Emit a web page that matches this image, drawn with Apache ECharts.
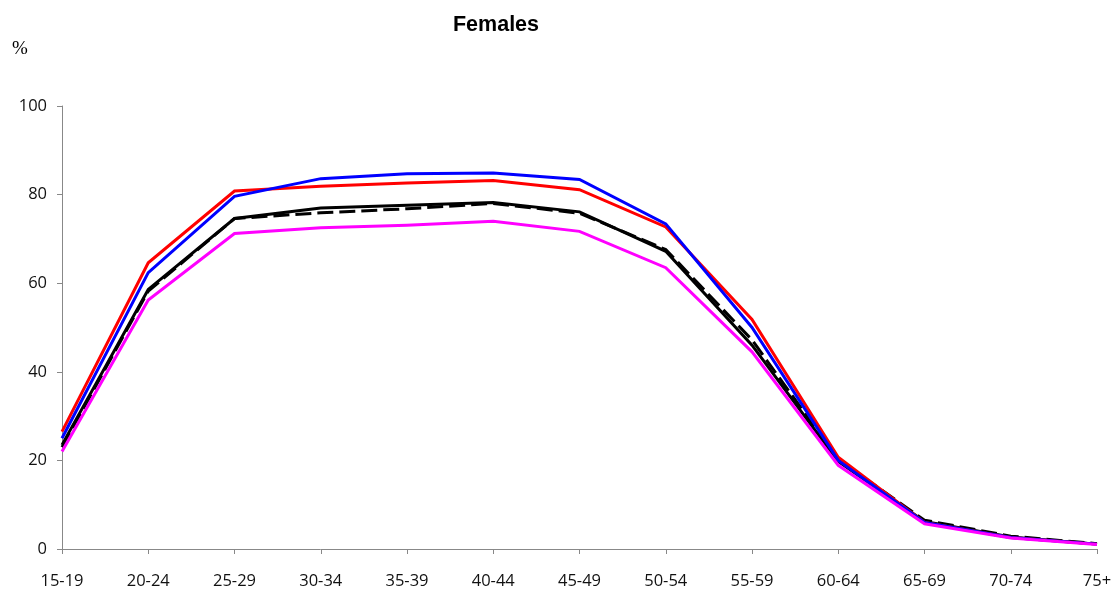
<!DOCTYPE html>
<html><head><meta charset="utf-8">
<script src="https://cdn.jsdelivr.net/npm/echarts@6/dist/echarts.min.js"></script>
<style>html,body{margin:0;padding:0;background:#fff}#c{width:1117px;height:593px}</style>
</head><body><div id="c"></div>
<script>
const categories = ['15-19','20-24','25-29','30-34','35-39','40-44','45-49','50-54','55-59','60-64','65-69','70-74','75+'];
const redValues     = [26.5, 64.6, 80.8, 81.9, 82.6, 83.2, 81.1, 72.7, 51.8, 20.7, 6.0, 2.6, 1.1];
const blueValues    = [25.0, 62.4, 79.6, 83.6, 84.7, 84.9, 83.4, 73.4, 50.0, 20.0, 6.0, 2.6, 1.1];
const blackValues   = [23.5, 58.6, 74.6, 77.0, 77.6, 78.2, 76.1, 67.2, 46.0, 19.8, 6.2, 2.7, 1.1];
const dashedValues  = [23.0, 58.2, 74.6, 75.9, 76.8, 78.0, 75.8, 67.6, 47.2, 20.2, 6.5, 2.9, 1.2];
const magentaValues = [22.0, 56.2, 71.2, 72.5, 73.1, 74.0, 71.7, 63.5, 44.5, 18.9, 5.7, 2.5, 1.0];
const yTicks = [0, 20, 40, 60, 80, 100];

const chart = echarts.init(document.getElementById('c'));
const mk = (name, data, color, type) => ({
  name, type: 'line', data, symbol: 'none', animation: false,
  lineStyle: {color, width: 3, type: type || 'solid', cap: 'butt', join: 'miter'}
});
chart.setOption({
  animation: false,
  title: {text: 'Females', left: 491, textAlign: 'center', top: 9,
    textStyle: {fontFamily: 'Liberation Sans', fontWeight: 'bold', fontSize: 21.5, color: '#000'}},
  graphic: [{type: 'text', left: 12, top: 40, style: {text: '%', font: '19px "Liberation Serif"', fill: '#000'}}],
  grid: {left: 62, right: 20, top: 106, bottom: 44, containLabel: false},
  xAxis: {type: 'category', data: categories, boundaryGap: false,
    axisLine: {lineStyle: {color: '#888', width: 1}},
    axisTick: {show: true, length: 5, lineStyle: {color: '#888'}},
    axisLabel: {fontFamily: 'Open Sans', fontSize: 16.5, color: '#111', margin: 24, interval: 0}},
  yAxis: {type: 'value', min: yTicks[0], max: yTicks[yTicks.length-1], interval: 20,
    axisLine: {show: true, lineStyle: {color: '#888', width: 1}},
    axisTick: {show: true, length: 5, lineStyle: {color: '#888'}},
    splitLine: {show: false},
    axisLabel: {fontFamily: 'Open Sans', fontSize: 16.5, color: '#111', margin: 15}},
  series: [
    mk('dashed', dashedValues, '#000', [16, 6]),
    mk('black', blackValues, '#000'),
    mk('red', redValues, '#ff0000'),
    mk('blue', blueValues, '#0000ff'),
    mk('magenta', magentaValues, '#ff00ff')
  ]
});
</script></body></html>
